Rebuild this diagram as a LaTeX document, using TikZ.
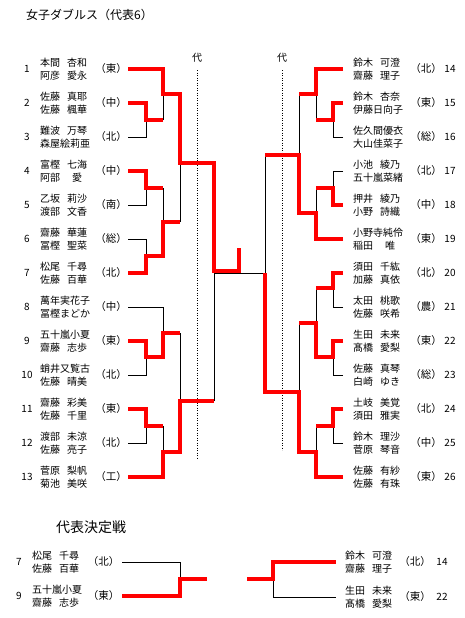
\documentclass[tikz,border=0pt]{standalone}
\usepackage{fontspec}
\setmainfont{Noto Sans CJK JP}
\newcommand{\nmx}[2]{\makebox[2em][l]{#1}\hspace{0.7em}\makebox[2em][c]{#2}}
\newcommand{\entL}[5]{%
  \node[num] (k#1) at (27,#2) {#1};
  \node[nm] (e#1) at (40,#2) {#3\\#4};
  \node[aff] (a#1) at (111,#2) {（#5）};}
\newcommand{\entR}[5]{%
  \node[num] (k#1) at (450,#2) {#1};
  \node[nm] (e#1) at (353,#2) {#3\\#4};
  \node[aff] (a#1) at (426,#2) {（#5）};}
\begin{document}
\begin{tikzpicture}[x=1pt,y=-1pt,
  win/.style={draw=red, line width=3.6pt, line join=miter},
  lose/.style={draw=black, line width=0.9pt},
  nm/.style={anchor=west, inner sep=0pt, align=left, font=\fontsize{10}{13}\selectfont},
  aff/.style={inner sep=0pt, font=\fontsize{10.5}{12}\selectfont},
  num/.style={inner sep=0pt, font=\fontsize{10}{12}\selectfont},
  dotline/.style={draw=black, line width=0.8pt, dash pattern=on 0.8pt off 1.7pt},
  ttl/.style={inner sep=0pt, font=\fontsize{12}{14}\selectfont}]
\useasboundingbox (0,0) rectangle (465,618);
\fill[white] (0,0) rectangle (465,618);

% titles
\node[ttl, anchor=west] (title) at (26,15) {女子ダブルス（代表6）};
\node[aff, font=\fontsize{10}{12}\selectfont] (dai1) at (197,58) {代};
\node[aff, font=\fontsize{10}{12}\selectfont] (dai2) at (282,58) {代};
\draw[dotline] (197,70) -- (197,458);
\draw[dotline] (282,70) -- (282,450);

% left entries
\entL{1}{69}{\nmx{本間}{杏和}}{\nmx{阿彦}{愛永}}{東}
\entL{2}{103}{\nmx{佐藤}{真耶}}{\nmx{佐藤}{楓華}}{中}
\entL{3}{137}{\nmx{難波}{万琴}}{森屋絵莉亜}{北}
\entL{4}{171}{\nmx{富樫}{七海}}{\nmx{阿部}{愛}}{中}
\entL{5}{205}{\nmx{乙坂}{莉沙}}{\nmx{渡部}{文香}}{南}
\entL{6}{239}{\nmx{齋藤}{華蓮}}{\nmx{冨樫}{聖菜}}{総}
\entL{7}{273}{\nmx{松尾}{千尋}}{\nmx{佐藤}{百華}}{北}
\entL{8}{307}{萬年実花子}{冨樫まどか}{中}
\entL{9}{341}{五十嵐小夏}{\nmx{齋藤}{志歩}}{東}
\entL{10}{375}{蛸井又覧古}{\nmx{佐藤}{晴美}}{北}
\entL{11}{409}{\nmx{齋藤}{彩美}}{\nmx{佐藤}{千里}}{東}
\entL{12}{443}{\nmx{渡部}{未涼}}{\nmx{佐藤}{亮子}}{北}
\entL{13}{477}{\nmx{菅原}{梨帆}}{\nmx{菊池}{美咲}}{工}

% right entries
\entR{14}{69}{\nmx{鈴木}{可澄}}{\nmx{齋藤}{理子}}{北}
\entR{15}{103}{\nmx{鈴木}{杏奈}}{伊藤日向子}{東}
\entR{16}{137}{佐久間優衣}{大山佳菜子}{総}
\entR{17}{171}{\nmx{小池}{綾乃}}{五十嵐菜緒}{北}
\entR{18}{205}{\nmx{押井}{綾乃}}{\nmx{小野}{詩織}}{中}
\entR{19}{239}{小野寺純伶}{\nmx{稲田}{唯}}{東}
\entR{20}{273}{\nmx{須田}{千紘}}{\nmx{加藤}{真依}}{北}
\entR{21}{307}{\nmx{太田}{桃歌}}{\nmx{佐藤}{咲希}}{農}
\entR{22}{341}{\nmx{生田}{未来}}{\nmx{髙橋}{愛梨}}{東}
\entR{23}{375}{\nmx{佐藤}{真琴}}{\nmx{白崎}{ゆき}}{総}
\entR{24}{409}{\nmx{土岐}{美覚}}{\nmx{須田}{雅実}}{北}
\entR{25}{443}{\nmx{鈴木}{理沙}}{\nmx{菅原}{琴音}}{中}
\entR{26}{477}{\nmx{佐藤}{有紗}}{\nmx{佐藤}{有珠}}{東}

% left bracket: losers
\draw[lose] (128,137) -- (146,137) -- (146,120);
\draw[lose] (163,120) -- (163,94);
\draw[lose] (128,205) -- (146,205) -- (146,188);
\draw[lose] (128,239) -- (146,239) -- (146,256);
\draw[lose] (163,188) -- (163,222);
\draw[lose] (180,222) -- (180,163);
\draw[lose] (128,307) -- (163,307) -- (163,333);
\draw[lose] (128,375) -- (146,375) -- (146,357);
\draw[lose] (128,443) -- (146,443) -- (146,426);
\draw[lose] (163,426) -- (163,452);
\draw[lose] (180,333) -- (180,401);
\draw[lose] (214,401) -- (214,273.5) -- (265,273.5);

% right bracket: losers
\draw[lose] (343,137) -- (333,137) -- (333,120);
\draw[lose] (316,120) -- (316,94);
\draw[lose] (343,171) -- (333,171) -- (333,188);
\draw[lose] (316,188) -- (316,213);
\draw[lose] (299,94) -- (299,155);
\draw[lose] (343,307) -- (333,307) -- (333,288);
\draw[lose] (343,375) -- (333,375) -- (333,357);
\draw[lose] (316,288) -- (316,323);
\draw[lose] (343,443) -- (333,443) -- (333,426);
\draw[lose] (316,426) -- (316,452);
\draw[lose] (299,323) -- (299,392);
\draw[lose] (265,155) -- (265,273.5);

% left bracket: winners
\draw[win] (128,69) -- (163,69) -- (163,94) -- (180,94) -- (180,163) -- (214,163) -- (214,271) -- (239,271) -- (239,248);
\draw[win] (128,103) -- (146,103) -- (146,120) -- (163,120);
\draw[win] (128,171) -- (146,171) -- (146,188) -- (163,188);
\draw[win] (128,273) -- (146,273) -- (146,256) -- (163,256) -- (163,222) -- (180,222);
\draw[win] (128,341) -- (146,341) -- (146,357) -- (163,357) -- (163,333) -- (180,333);
\draw[win] (128,409) -- (146,409) -- (146,426) -- (163,426);
\draw[win] (128,477) -- (163,477) -- (163,452) -- (180,452) -- (180,401) -- (214,401);

% right bracket: winners
\draw[win] (343,69) -- (316,69) -- (316,94) -- (299,94);
\draw[win] (343,103) -- (333,103) -- (333,120) -- (316,120);
\draw[win] (343,205) -- (333,205) -- (333,188) -- (316,188);
\draw[win] (343,239) -- (316,239) -- (316,213) -- (299,213) -- (299,155) -- (265,155);
\draw[win] (343,273) -- (333,273) -- (333,288) -- (316,288);
\draw[win] (343,341) -- (333,341) -- (333,357) -- (316,357) -- (316,323) -- (299,323);
\draw[win] (343,409) -- (333,409) -- (333,426) -- (316,426);
\draw[win] (343,477) -- (316,477) -- (316,452) -- (299,452) -- (299,392) -- (265,392) -- (265,272.5);

% playoff
\node[ttl, font=\fontsize{14}{16}\selectfont] (pttl) at (91,527) {代表決定戦};
\node[num] (bk7) at (19,562) {7};
\node[nm] (be7) at (32,562) {\nmx{松尾}{千尋}\\\nmx{佐藤}{百華}};
\node[aff] (ba7) at (103.5,562) {（北）};
\node[num] (bk9) at (19,596) {9};
\node[nm] (be9) at (32,596) {五十嵐小夏\\\nmx{齋藤}{志歩}};
\node[aff] (ba9) at (103.5,596) {（東）};
\node[num] (bk14) at (442,562) {14};
\node[nm] (be14) at (345,562) {\nmx{鈴木}{可澄}\\\nmx{齋藤}{理子}};
\node[aff] (ba14) at (415,562) {（北）};
\node[num] (bk22) at (442,597) {22};
\node[nm] (be22) at (345,597) {\nmx{生田}{未来}\\\nmx{髙橋}{愛梨}};
\node[aff] (ba22) at (415,597) {（東）};

\draw[lose] (122,562) -- (180,562) -- (180,579);
\draw[win] (122,596) -- (180,596) -- (180,579) -- (207,579);
\draw[lose] (273,579) -- (273,597) -- (336,597);
\draw[win] (247,579) -- (273,579) -- (273,562) -- (336,562);
\end{tikzpicture}
\end{document}
